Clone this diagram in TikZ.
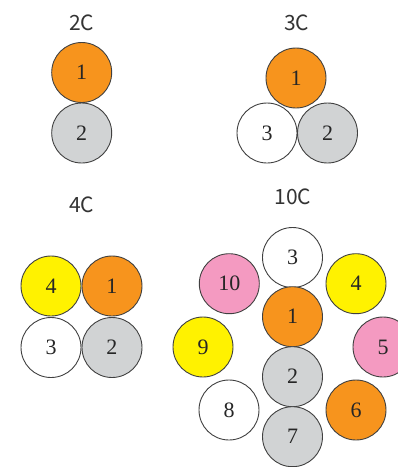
\documentclass[tikz,border=0pt]{standalone}
\usepackage{fontspec}
\setmainfont{Liberation Serif}
\newfontfamily\titlefont{Noto Sans CJK JP}
\definecolor{corange}{HTML}{F7941D}
\definecolor{cgrey}{HTML}{D1D3D4}
\definecolor{cyellow}{HTML}{FFF200}
\definecolor{cpink}{HTML}{F49AC1}
\definecolor{cline}{HTML}{404040}
\begin{document}
\begin{tikzpicture}[x=1pt,y=-1pt,
  wire/.style={circle,draw=cline,line width=0.9pt,minimum size=60pt,inner sep=0pt,font=\fontsize{22}{22}\selectfont,text=black!85},
  title/.style={font=\titlefont\fontsize{21}{21}\selectfont,text=black!80}]
\useasboundingbox (0,0) rectangle (398,467);
% 2C
\node[title] (t2) at (81.7,23) {2C};
\node[wire,fill=corange] (a1) at (81.7,72.5) {1};
\node[wire,fill=cgrey] (a2) at (81.7,133) {2};
% 3C
\node[title] (t3) at (296.7,23) {3C};
\node[wire,fill=corange] (b1) at (296,78) {1};
\node[wire,fill=white] (b3) at (267,133) {3};
\node[wire,fill=cgrey] (b2) at (327.5,133) {2};
% 4C
\node[title] (t4) at (81.7,205) {4C};
\node[wire,fill=cyellow] (c4) at (51,286) {4};
\node[wire,fill=corange] (c1) at (112,286) {1};
\node[wire,fill=white] (c3) at (51,347.5) {3};
\node[wire,fill=cgrey] (c2) at (112,347.5) {2};
% 10C
\node[title] (t10) at (293,197) {10C};
\node[wire,fill=white] (d3) at (292.5,257.5) {3};
\node[wire,fill=corange] (d1) at (292.5,316.7) {1};
\node[wire,fill=cgrey] (d2) at (292.5,376.7) {2};
\node[wire,fill=cgrey] (d7) at (292.5,436.7) {7};
\node[wire,fill=cpink] (d10) at (229.3,283.7) {10};
\node[wire,fill=cyellow] (d4) at (356,283.7) {4};
\node[wire,fill=cyellow] (d9) at (203,347) {9};
\node[wire,fill=cpink] (d5) at (383,347) {5};
\node[wire,fill=white] (d8) at (229,410) {8};
\node[wire,fill=corange] (d6) at (356,410) {6};
\end{tikzpicture}
\end{document}
